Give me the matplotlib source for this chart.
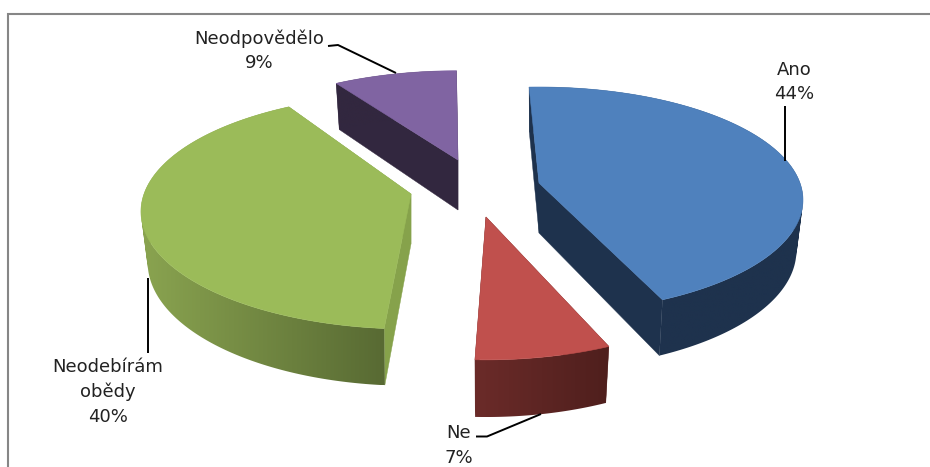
import matplotlib
matplotlib.use('Agg')
import matplotlib.pyplot as plt
from matplotlib.colors import LinearSegmentedColormap
from matplotlib.patches import Polygon, PathPatch
from matplotlib.path import Path
import numpy as np

categories = ["Ano", "Ne", "Neodebírám\nobědy", "Neodpovědělo"]
values = [44, 7, 40, 9]

# slice colours: top, cut faces, outer wall left / right
top_colors = ['#4f81bd', '#c0504d', '#9bbb59', '#8064a2']
face_colors = ['#1e324d', '#5a2422', '#86a24b', '#32273f']
wall_left = ['#1e324d', '#6b2b29', '#8aa450', '#32273f']
wall_right = ['#1e324d', '#4f1f1d', '#586a33', '#32273f']

# where each exploded slice has its point, in pixels
apex_x = [539, 486, 411, 458]
apex_y = [183, 217, 194, 160]

# exploded slices sit nearer or further from the viewer
scale_x = [1.0, 1.03, 1.023, 0.97]
scale_y = [1.0, 1.1, 1.04, 0.93]
nudge = [-0.5, 0.4, 3.3, 1.6]

start_angle = -2.0
rx, ry, persp = 261.0, 110.4, 0.15
depth, bottom_sx, bottom_sy = 50.0, 0.975, 1.05

label_x = [794, 459, 108, 259]
label_y = [82, 445.5, 392, 51]
leaders = [
    ([785, 785], [106, 161]),
    ([476, 487, 541], [436.5, 436.5, 414]),
    ([148, 148], [353, 278]),
    ([328, 338, 396], [46, 45, 73]),
]


def project(t, i, bottom=False):
    # circle in the pie plane -> screen, t clockwise from the top
    t = np.radians(t)
    X, Y = np.sin(t), -np.cos(t)
    w = 1 - persp * Y
    sx, sy = scale_x[i] * rx * X / w, scale_y[i] * ry * Y / w
    if bottom:
        return apex_x[i] + bottom_sx * sx, apex_y[i] + depth + bottom_sy * sy
    return apex_x[i] + sx, apex_y[i] + sy


def quad_area(q):
    xs, ys = zip(*q)
    return sum(xs[k] * ys[(k + 1) % 4] - xs[(k + 1) % 4] * ys[k] for k in range(4))


fig = plt.figure(figsize=(9.3, 4.67), dpi=100)
ax = fig.add_axes([0, 0, 1, 1])

# chart frame, only top and left show in the crop
ax.plot([8, 8, 930], [467, 14, 14], color='#868686', lw=1.5, solid_capstyle='butt', solid_joinstyle='miter')

angles = start_angle + np.concatenate([[0], np.cumsum(values)]) * 3.6

z = 2
for i in [3, 0, 2, 1]:
    cx, cy = apex_x[i], apex_y[i]
    ts = np.linspace(angles[i] + nudge[i], angles[i + 1] + nudge[i], 200)
    tx, ty = project(ts, i)
    bx, by = project(ts, i, bottom=True)

    # cut faces
    for j in [0, -1]:
        ax.add_patch(Polygon([(cx, cy), (tx[j], ty[j]), (bx[j], by[j]), (cx, cy + depth)],
                             closed=True, fc=face_colors[i], ec=face_colors[i], lw=0.3, zorder=z))
    z += 1

    # outer wall with horizontal gradient, clip is the union of small quads
    # all quads must turn the same way or the overlaps cancel out
    quads = []
    for j in range(len(ts) - 1):
        q = [(tx[j], ty[j]), (tx[j + 1], ty[j + 1]), (bx[j + 1], by[j + 1]), (bx[j], by[j])]
        if quad_area(q) < 0:
            q = q[::-1]
        quads.append(Path(q + [q[0]], closed=True))
    wall = PathPatch(Path.make_compound_path(*quads), fc='none', ec='none', transform=ax.transData)
    ax.add_patch(wall)
    cmap = LinearSegmentedColormap.from_list('wall%d' % i, [wall_left[i], wall_right[i]])
    x0, x1 = min(tx.min(), bx.min()), max(tx.max(), bx.max())
    y0, y1 = min(ty.min(), by.min()), max(ty.max(), by.max())
    im = ax.imshow(np.linspace(0, 1, 256).reshape(1, -1), cmap=cmap, extent=[x0, x1, y1, y0],
                   aspect='auto', zorder=z, interpolation='bilinear')
    im.set_clip_path(wall)
    z += 1

    # top surface
    pts = [(cx, cy)] + list(zip(tx, ty))
    ax.add_patch(Polygon(pts, closed=True, fc=top_colors[i], ec=top_colors[i], lw=0.4, zorder=z))
    z += 1

for lx, ly in leaders:
    ax.plot(lx, ly, color='black', lw=1.4, solid_capstyle='butt', zorder=z)

for i in range(len(categories)):
    ax.text(label_x[i], label_y[i], categories[i] + "\n" + str(values[i]) + "%",
            ha='center', va='center', fontsize=13, color='#222222', linespacing=1.45,
            family='DejaVu Sans', zorder=z)

ax.set_xlim(0, 930)
ax.set_ylim(467, 0)
ax.axis('off')

fig.savefig('out.png', dpi=100)
